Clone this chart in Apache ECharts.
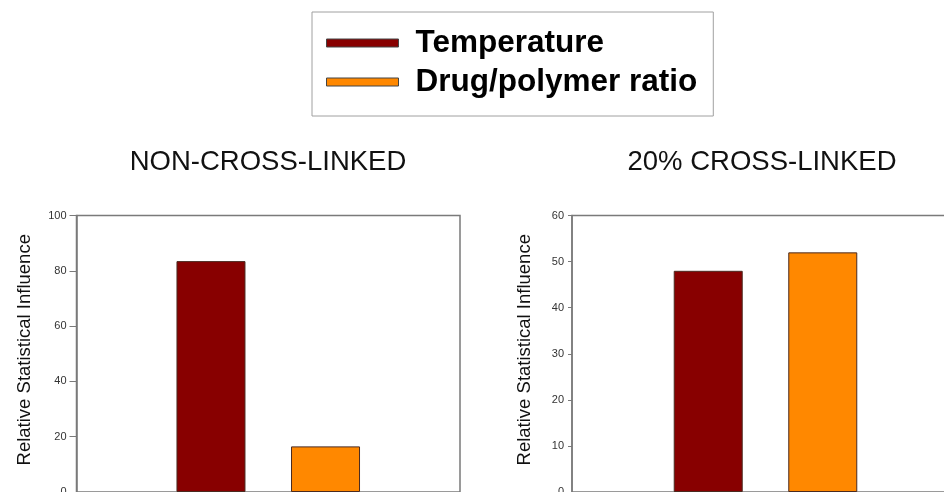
<!DOCTYPE html>
<html>
<head>
<meta charset="utf-8">
<script src="https://cdn.jsdelivr.net/npm/echarts@6/dist/echarts.min.js"></script>
<style>
html,body{margin:0;padding:0;background:#fff;overflow:hidden;}
#chart{width:944px;height:492px;}
</style>
</head>
<body>
<div id="chart"></div>
<script>
// ---- data ----
const seriesNames = ['Temperature', 'Drug/polymer ratio'];
const panelTitles = ['NON-CROSS-LINKED', '20% CROSS-LINKED'];
const categories = [''];
const nonCrossLinked = [83.5, 16.5];
const crossLinked20 = [48, 52];
const yMaxLeft = 100, yIntervalLeft = 20;
const yMaxRight = 60, yIntervalRight = 10;
const yAxisName = 'Relative Statistical Influence';

// ---- style ----
const FONT = "'Liberation Sans', Arial, Helvetica, sans-serif";
const colors = ['#880000', '#FF8800'];
const axisColor = '#7a7a7a';

const chart = echarts.init(document.getElementById('chart'), null, {renderer: 'canvas', width: 944, height: 492});

const panels = [nonCrossLinked, crossLinked20];
const series = [];
panels.forEach((vals, gi) => {
  seriesNames.forEach((name, si) => {
    series.push({
      type: 'bar',
      name: name,
      xAxisIndex: gi,
      yAxisIndex: gi,
      data: [vals[si]],
      barWidth: 69,
      barGap: '66%',
      itemStyle: {color: colors[si], borderColor: '#4a2a20', borderWidth: 1},
      emphasis: {disabled: true},
      animation: false
    });
  });
});

function yAxis(gi, max, interval, tickLen, margin, gap) {
  return {
    type: 'value', gridIndex: gi, min: 0, max: max, interval: interval,
    name: yAxisName, nameLocation: 'middle', nameGap: gap, nameRotate: 90,
    nameTextStyle: {fontFamily: FONT, fontSize: 18.5, color: '#111', padding: [0, 0, 0, 8]},
    axisLine: {show: true, lineStyle: {color: axisColor, width: 1.5}},
    axisTick: {show: true, length: tickLen, lineStyle: {color: axisColor, width: 1}},
    axisLabel: {fontFamily: FONT, fontSize: 11, color: '#333', margin: margin},
    splitLine: {show: false}
  };
}

function xAxis(gi) {
  return {
    type: 'category', gridIndex: gi, data: categories,
    axisLine: {show: false}, axisTick: {show: false}, axisLabel: {show: false}
  };
}

const gridCommon = {show: true, borderColor: axisColor, borderWidth: 1.5, backgroundColor: 'transparent',
                    containLabel: false, outerBoundsMode: 'none'};

chart.setOption({
  backgroundColor: '#fff',
  animation: false,
  title: [
    {text: panelTitles[0], left: 263, top: 143, textAlign: 'center',
     textStyle: {fontFamily: FONT, fontSize: 27.5, fontWeight: 'normal', color: '#111'}},
    {text: panelTitles[1], left: 757, top: 143, textAlign: 'center',
     textStyle: {fontFamily: FONT, fontSize: 27.5, fontWeight: 'normal', color: '#111'}}
  ],
  legend: {
    data: seriesNames,
    orient: 'vertical',
    left: 312, top: 12,
    padding: [13, 16, 16, 14],
    itemWidth: 72, itemHeight: 8, itemGap: 3,
    icon: 'rect',
    borderColor: '#a0a0a0', borderWidth: 1,
    itemStyle: {borderColor: '#444', borderWidth: 1},
    textStyle: {fontFamily: FONT, fontSize: 31.5, fontWeight: 'bold', color: '#000',
                lineHeight: 36, padding: [0, 0, 0, 12]},
    selectedMode: false
  },
  grid: [
    Object.assign({left: 76.5, width: 383.5, top: 215.5, height: 276.5}, gridCommon),
    Object.assign({left: 572, width: 387, top: 215.5, height: 276.5}, gridCommon)
  ],
  xAxis: [xAxis(0), xAxis(1)],
  yAxis: [
    yAxis(0, yMaxLeft, yIntervalLeft, 7, 10, 42),
    yAxis(1, yMaxRight, yIntervalRight, 4, 8, 38)
  ],
  series: series
});
</script>
</body>
</html>
